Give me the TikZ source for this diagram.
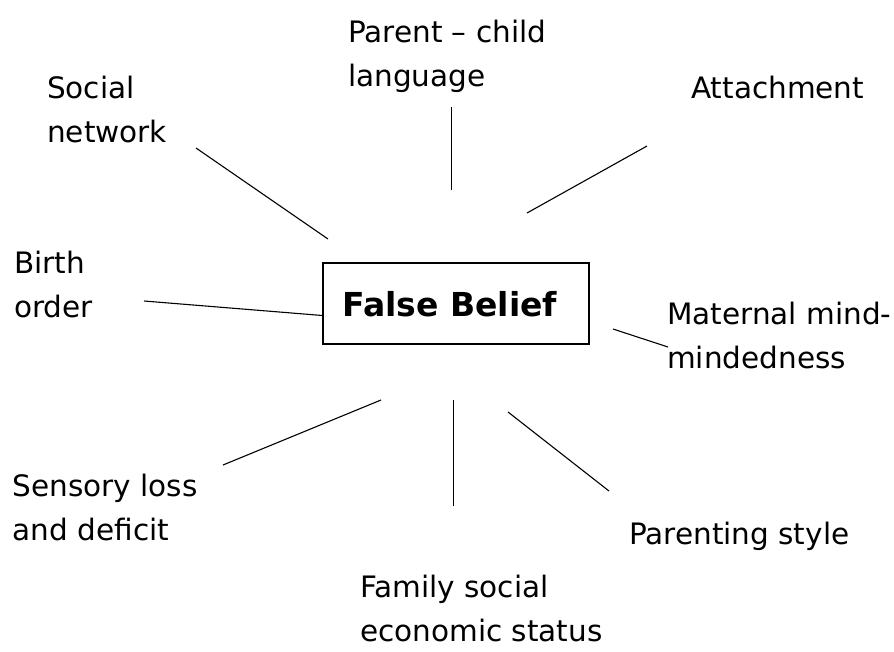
\documentclass[tikz,border=0pt]{standalone}
\usepackage{fontspec}
\setmainfont{DejaVu Sans}
\begin{document}
\begin{tikzpicture}[x=1pt,y=-1pt,
  lbl/.style={anchor=base west,align=left,font=\fontsize{29.5}{44}\selectfont,inner sep=0pt},
  conn/.style={line width=1.1pt}]
\useasboundingbox (0,0) rectangle (894,651);
\node[draw,line width=1.3pt,minimum width=266pt,minimum height=81pt,inner sep=0pt] (fb) at (456,303.5) {};
\node[anchor=base,inner sep=0pt,font=\fontsize{33}{40}\bfseries\selectfont] (fbt) at (450,316) {False Belief};
\node[lbl] (pc) at (348,86) {Parent – child\\language};
\node[lbl] (sn) at (47,142) {Social\\network};
\node[lbl] (at) at (691,98) {Attachment};
\node[lbl] (bo) at (14,317) {Birth\\order};
\node[lbl] (mm) at (667,368) {Maternal mind-\\mindedness};
\node[lbl] (sl) at (12.5,540) {Sensory loss\\and deficit};
\node[lbl] (ps) at (629,544) {Parenting style};
\node[lbl] (fs) at (360,641) {Family social\\economic status};
\coordinate (a1) at (196,148); \coordinate (a2) at (328,239);
\coordinate (b1) at (451.5,107); \coordinate (b2) at (451.5,190);
\coordinate (c1) at (647,146); \coordinate (c2) at (527,213);
\coordinate (d1) at (144,301); \coordinate (d2) at (fb.west |- 0,315.5);
\coordinate (e1) at (613,329); \coordinate (e2) at (668,347);
\coordinate (f1) at (223,465); \coordinate (f2) at (381,400);
\coordinate (g1) at (453.5,506); \coordinate (g2) at (453.5,400);
\coordinate (h1) at (609,491); \coordinate (h2) at (508,412);
\draw[conn] (a1) -- (a2);
\draw[conn] (b1) -- (b2);
\draw[conn] (c1) -- (c2);
\draw[conn] (d1) -- (d2);
\draw[conn] (e1) -- (e2);
\draw[conn] (f1) -- (f2);
\draw[conn] (g1) -- (g2);
\draw[conn] (h1) -- (h2);
\end{tikzpicture}
\end{document}
